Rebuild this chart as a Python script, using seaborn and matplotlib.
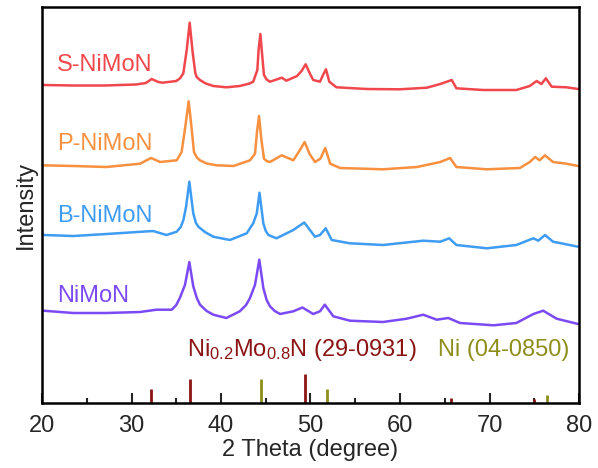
import numpy as np
import pandas as pd
import matplotlib
matplotlib.use("Agg")
import matplotlib.pyplot as plt
import seaborn as sns

# ---- XRD patterns (2-theta in degrees, intensity in a.u. relative to each baseline) ----
s_theta = [20.15, 23.5, 27.0, 30.5, 31.6, 32.26, 33.0, 33.5, 35.0, 35.42, 35.79, 36.17, 36.5, 36.84,
           37.13, 37.28, 37.65, 38.3, 39.14, 40.6, 42.1, 43.2, 43.6, 44.06, 44.2, 44.4, 44.58,
           44.8, 45.1, 45.47, 46.8, 47.3, 48.5, 49.0, 49.46, 49.9, 50.3, 51.06, 51.4, 51.73,
           52.1, 52.9, 56.3, 60.0, 63.0, 64.5, 65.78, 66.3, 69.3, 73.0, 74.5, 75.27, 75.8,
           76.3, 76.95, 78.6, 79.9]
s_int = [2, 1.5, 1.5, 2.5, 4, 8, 5, 4.3, 6, 8.7, 13.7, 37, 64.3, 34,
         14, 10, 7, 3.5, 1, -0.3, 1, 3.5, 5.3, 17, 37, 53, 34,
         12, 7.5, 5.3, 9.3, 6.3, 11, 16, 22.7, 14, 7, 5.3, 12, 17.7,
         5.3, -0.3, -2, -2.3, -0.7, 3, 7, -1.3, -3, -3, 1, 6, 3,
         8.7, 0.3, -0.3, -2]

p_theta = [20.15, 23.5, 27.2, 30.95, 32.18, 33.2, 35.05, 35.6, 35.98, 36.39, 36.72, 36.98, 37.3,
           37.65, 38.4, 39.5, 41.4, 43.24, 43.8, 44.02, 44.25, 44.5, 44.8, 45.1, 45.47, 46.78,
           48.08, 48.8, 49.35, 49.9, 50.5, 51.1, 51.65, 52.2, 53.3, 58.1, 61.9, 64.5, 65.6,
           66.3, 69.7, 73.4, 74.5, 75.1, 75.6, 76.2, 77.1, 78.6, 79.9]
p_int = [0.7, 0, -1, 2.3, 8, 4, 5.7, 14, 37.3, 64.7, 37.3, 14, 8.5,
         5.7, 2.5, 0.7, 0, 5.7, 12.3, 34, 50, 27.3, 7.3, 5, 4, 10.7,
         5.7, 15.7, 24, 12, 4, 7.3, 18, 2.3, -2, -3.3, -1, 4, 8,
         -1, -3.3, -2, 4, 9, 5.7, 10.7, 4, 2.3, 0]

b_theta = [20.15, 23.5, 27.2, 32.4, 33.9, 35.05, 35.5, 35.8, 36.1, 36.46, 36.9, 37.2, 37.47, 38.2,
           39.14, 41.0, 42.87, 43.6, 44.0, 44.3, 44.73, 45.0, 45.3, 46.2, 48.08, 49.3, 50.5,
           51.06, 51.7, 52.37, 54.4, 58.1, 62.6, 64.5, 65.5, 66.3, 69.7, 73.0, 74.9, 75.45,
           76.2, 77.1, 79.9]
b_int = [1, 0, 2, 5, 1, 4.3, 9, 16, 29.3, 54.3, 22.7, 13, 9.3, 4,
         -0.7, -4, 2.7, 12.7, 22.7, 43.3, 12.7, 5, 1, -2.3, 6, 13.5, -0.7,
         1, 7.7, -4, -7.3, -9, -4.7, -5.7, -2.3, -9, -12.3, -9, -2.3, -4.7,
         1, -5.7, -10.7]

n_theta = [20.15, 23.5, 27.2, 30.95, 32.8, 34.5, 35.0, 35.4, 35.98, 36.46, 36.9, 37.3, 37.65,
           38.4, 39.14, 40.6, 42.1, 42.8, 43.24, 43.8, 44.28, 44.73, 45.1, 45.47, 46.0, 46.6,
           48.08, 49.1, 50.3, 51.06, 51.6, 52.55, 54.4, 58.1, 60.75, 62.6, 64.1, 65.4, 66.7,
           70.45, 73.0, 74.9, 76.0, 77.5, 79.9]
n_int = [2.3, 0, 0, 1, 3.3, 3.3, 8, 15, 28.3, 51, 26.7, 15, 8.3,
         2, -1.7, -5, 1.7, 8, 15, 28.3, 53.3, 25, 13, 6.7, 2, -1,
         1.7, 5.5, -1, 1.7, 8.3, -3.3, -7.7, -9, -5.7, -1.7, -6.7, -5, -10,
         -12.3, -10, -1, 2.3, -5.7, -11]

samples = ["S-NiMoN", "P-NiMoN", "B-NiMoN", "NiMoN"]
offsets = [316, 237, 167, 90]
label_y = [338, 259.5, 187.5, 107.5]
colors = ["#F0474D", "#F7903F", "#3E9CF3", "#7B4AF5"]

# ---- standard reference cards ----
nimon_pos = [32.2, 36.5, 49.35, 65.7, 75.0]
nimon_h = [14, 24, 29, 5, 4]
ni_pos = [44.5, 51.85, 76.4]
ni_h = [24, 14, 8]
card_red = "#8B1414"
card_olive = "#8E8E1A"

sns.set_style("ticks")
plt.rcParams["font.family"] = ["Liberation Sans", "DejaVu Sans"]
plt.rcParams["mathtext.fontset"] = "custom"
plt.rcParams["mathtext.rm"] = "Liberation Sans"
plt.rcParams["mathtext.it"] = "Liberation Sans:italic"

frames = []
for name, th, it, off in zip(samples, [s_theta, p_theta, b_theta, n_theta],
                             [s_int, p_int, b_int, n_int], offsets):
    frames.append(pd.DataFrame({"theta": th,
                                "intensity": np.asarray(it, float) + off,
                                "sample": name}))
df = pd.concat(frames, ignore_index=True)

fig = plt.figure(figsize=(5.98, 4.68), dpi=100)
ax = fig.add_axes([42 / 598, 1 - 403 / 468, 537 / 598, 396 / 468])

sns.lineplot(data=df, x="theta", y="intensity", hue="sample", hue_order=samples,
             palette=dict(zip(samples, colors)), estimator=None, sort=False,
             linewidth=1.8, legend=False, ax=ax)

for name, y, c in zip(samples, label_y, colors):
    ax.text(21.7, y, name, color=c, fontsize=17, va="center", ha="left")

ax.vlines(nimon_pos, 0, nimon_h, color=card_red, linewidth=2)
ax.vlines(ni_pos, 0, ni_h, color=card_olive, linewidth=2)
ax.text(36.2, 53, r"Ni$_{0.2}$Mo$_{0.8}$N (29-0931)", color=card_red, fontsize=17,
        va="center", ha="left")
ax.text(64.25, 53, "Ni (04-0850)", color=card_olive, fontsize=17, va="center", ha="left")

ax.set_xlim(20, 80)
ax.set_ylim(0, 396)
ax.set_xticks(range(20, 81, 10))
ax.set_xticks(range(25, 80, 10), minor=True)
ax.set_yticks([])
ax.tick_params(axis="x", which="major", direction="in", length=7, width=1.5,
               labelsize=17, pad=8.5, top=False)
ax.tick_params(axis="x", which="minor", direction="in", length=3.5, width=1.5, top=False)
for sp in ax.spines.values():
    sp.set_linewidth(1.8)
    sp.set_color("black")
ax.set_xlabel("2 Theta (degree)", fontsize=17, labelpad=1.5)
ax.set_ylabel("Intensity", fontsize=17, labelpad=4)

fig.savefig("out.png", dpi=100)
